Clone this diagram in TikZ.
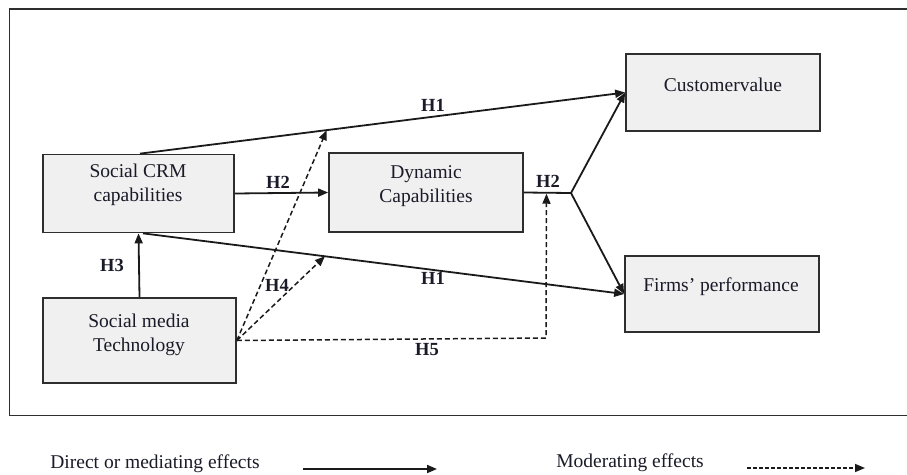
\documentclass[tikz,border=0pt]{standalone}
\usepackage{fontspec}
\setmainfont{Liberation Serif}
\usetikzlibrary{arrows.meta,calc}
\definecolor{boxfill}{HTML}{F0F0F0}
\definecolor{boxline}{HTML}{2E2E2E}
\definecolor{ln}{HTML}{1A1A1A}
\definecolor{txtc}{HTML}{1A1A28}
\begin{document}
\begin{tikzpicture}[x=1pt,y=-1pt,
  box/.style={draw=boxline, fill=boxfill, line width=1.7pt, inner sep=0pt},
  txt/.style={align=center, text=txtc, font=\fontsize{19.5}{24}\selectfont, inner sep=0pt},
  lbl/.style={text=txtc, font=\bfseries\fontsize{18.5}{20}\selectfont, inner sep=0pt},
  solidarrow/.style={draw=ln, line width=1.8pt, -{Triangle[length=10pt,width=8pt]}},
  plainline/.style={draw=ln, line width=1.8pt},
  dasharrow/.style={draw=ln, line width=1.5pt, dash pattern=on 5pt off 3pt, -{Triangle[length=10pt,width=8pt]}},
]
\useasboundingbox (0,0) rectangle (907,474);
% frame
\draw[draw=boxline, line width=1.6pt] (907,9) -- (9.5,9) -- (9.5,415.5) -- (907,415.5);

% boxes
\node[box, minimum width=191pt, minimum height=78pt] (crm) at (138.5,193.5) {};
\node[txt] (crmt) at (138,185) {Social CRM\\capabilities};
\node[box, minimum width=193pt, minimum height=85pt] (smt) at (139.5,340.5) {};
\node[txt] (smtt) at (139,335) {Social media\\Technology};
\node[box, minimum width=194pt, minimum height=79pt] (dc) at (426,192.5) {};
\node[txt] (dct) at (426,186) {Dynamic\\Capabilities};
\node[box, minimum width=194pt, minimum height=77pt] (cv) at (723,92.5) {};
\node[txt] (cvt) at (723,85) {Customervalue};
\node[box, minimum width=194pt, minimum height=76pt] (fp) at (722,294) {};
\node[txt] (fpt) at (721,287) {Firms’ performance};

% solid connectors
\draw[solidarrow] ([xshift=1.5pt]crm.north) -- (cv.west)
  coordinate[pos=0.385] (m1);
\draw[solidarrow] ([xshift=4.5pt]crm.south) -- (fp.west)
  coordinate[pos=0.378] (m2);
\draw[solidarrow] (crm.east) -- (dc.west);
\coordinate (br) at (571,193);
\draw[plainline] (dc.east) -- (br) coordinate[pos=0.48] (m3);
\draw[solidarrow] (br) -- (cv.west);
\draw[solidarrow] (br) -- (fp.west);
\draw[solidarrow] (smt.north) -- (crm.south);

% dashed connectors
\draw[dasharrow] (smt.east) -- (m1);
\draw[dasharrow] (smt.east) -- (m2);
\coordinate (h5c) at (546,338);
\draw[dasharrow] (smt.east) -- (h5c) -- ([yshift=-1pt]m3);

% labels
\node[lbl] (lh1a) at (433,105) {H1};
\node[lbl] (lh1b) at (433,278) {H1};
\node[lbl] (lh2a) at (278,182) {H2};
\node[lbl] (lh2b) at (548,181) {H2};
\node[lbl] (lh3) at (112,265) {H3};
\node[lbl] (lh4) at (277,285) {H4};
\node[lbl] (lh5) at (427,350) {H5};

% legend
\node[txt] (leg1) at (155,464) {Direct or mediating effects};
\coordinate (la1) at (303,469);
\coordinate (la2) at (437,469);
\draw[solidarrow] (la1) -- (la2);
\node[txt] (leg2) at (630,463) {Moderating effects};
\coordinate (lb1) at (747,468);
\coordinate (lb2) at (865,468);
\draw[draw=ln, line width=1.5pt, dash pattern=on 4pt off 2pt, -{Triangle[length=10pt,width=8pt]}] (lb1) -- (lb2);
\end{tikzpicture}
\end{document}
